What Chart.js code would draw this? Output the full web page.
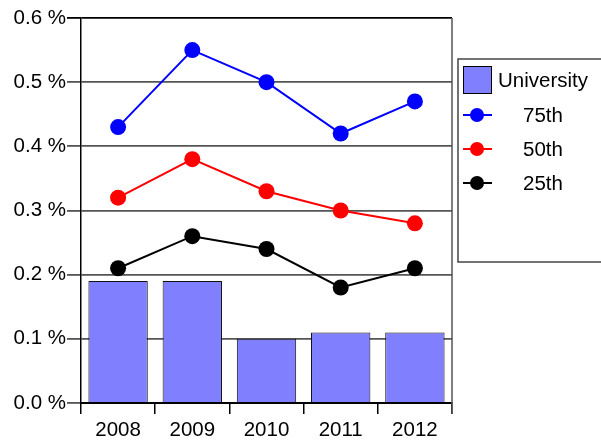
<!DOCTYPE html>
<html>
<head>
<meta charset="utf-8">
<script src="https://cdn.jsdelivr.net/npm/chart.js@4"></script>
<style>
  html, body { margin: 0; padding: 0; background: #fff; }
  #wrap { width: 601px; height: 442px; position: relative; }
</style>
</head>
<body>
<div id="wrap"><canvas id="chart"></canvas></div>
<script>
const years = ['2008', '2009', '2010', '2011', '2012'];
const university = [0.19, 0.19, 0.10, 0.11, 0.11];
const p75 = [0.43, 0.55, 0.50, 0.42, 0.47];
const p50 = [0.32, 0.38, 0.33, 0.30, 0.28];
const p25 = [0.21, 0.26, 0.24, 0.18, 0.21];
const yTicks = [0, 0.1, 0.2, 0.3, 0.4, 0.5, 0.6];

const FONT = 'Liberation Sans, Arial, sans-serif';
const FSIZE = 20.5;

function lineSet(label, data, color) {
    return {
        type: 'line',
        label: label,
        data: data,
        borderColor: color,
        backgroundColor: color,
        borderWidth: 2,
        pointRadius: 8,
        pointHoverRadius: 8,
        pointBorderWidth: 0,
        tension: 0,
        order: 1
    };
}

// frame line on the right and the boxed legend
const extras = {
    id: 'extras',
    afterDraw(chart) {
        const ctx = chart.ctx;
        const area = chart.chartArea;
        ctx.save();
        ctx.strokeStyle = '#555';
        ctx.lineWidth = 1.5;
        ctx.beginPath();
        ctx.moveTo(area.right, area.top);
        ctx.lineTo(area.right, area.bottom + 11);
        ctx.stroke();

        // legend box
        const lx = 458, ly = 59;
        ctx.strokeStyle = '#444';
        ctx.lineWidth = 1.5;
        ctx.strokeRect(lx, ly, 160, 203);

        ctx.font = FSIZE + 'px ' + FONT;
        ctx.textBaseline = 'middle';

        ctx.fillStyle = '#8080ff';
        ctx.fillRect(463, 66, 29, 28);
        ctx.strokeStyle = '#000';
        ctx.lineWidth = 1;
        ctx.strokeRect(463.5, 66.5, 28, 27);
        ctx.fillStyle = '#000';
        ctx.fillText('University', 498, 81);

        const items = [['75th', 'blue', 115], ['50th', 'red', 149], ['25th', 'black', 183]];
        items.forEach(([txt, col, y]) => {
            ctx.strokeStyle = col;
            ctx.fillStyle = col;
            ctx.lineWidth = 2;
            ctx.beginPath();
            ctx.moveTo(463, y);
            ctx.lineTo(492, y);
            ctx.stroke();
            ctx.beginPath();
            ctx.arc(477, y, 7, 0, Math.PI * 2);
            ctx.fill();
            ctx.fillStyle = '#000';
            ctx.fillText(txt, 523, y + 1);
        });
        ctx.restore();
    }
};

new Chart(document.getElementById('chart'), {
    type: 'bar',
    data: {
        labels: years,
        datasets: [
            {
                type: 'bar',
                label: 'University',
                data: university,
                backgroundColor: '#8080ff',
                borderColor: '#111',
                borderWidth: 1,
                barPercentage: 0.8,
                categoryPercentage: 1.0,
                order: 2
            },
            lineSet('75th', p75, '#0000ff'),
            lineSet('50th', p50, '#ff0000'),
            lineSet('25th', p25, '#000000')
        ]
    },
    options: {
        responsive: true,
        maintainAspectRatio: false,
        animation: false,
        layout: { padding: { top: 18, right: 149, left: 0, bottom: 0 } },
        plugins: {
            legend: { display: false },
            tooltip: { enabled: false }
        },
        scales: {
            x: {
                offset: true,
                grid: {
                    display: true,
                    drawOnChartArea: false,
                    drawTicks: true,
                    tickLength: 11,
                    color: '#000',
                    lineWidth: 1.5
                },
                border: { display: true, color: '#000', width: 2 },
                ticks: {
                    color: '#000',
                    font: { family: FONT, size: FSIZE },
                    padding: 4,
                    maxRotation: 0
                },
                afterFit(scale) { scale.height = 39; }
            },
            y: {
                min: 0,
                max: 0.6,
                afterBuildTicks(scale) {
                    scale.ticks = yTicks.map(v => ({ value: v }));
                },
                grid: {
                    color: ctx => (ctx.tick && ctx.tick.value === 0.6) ? '#000' : '#555',
                    lineWidth: 1.8,
                    tickLength: 14,
                    drawTicks: true
                },
                border: { display: true, color: '#000', width: 1.5 },
                ticks: {
                    color: '#000',
                    font: { family: FONT, size: FSIZE },
                    padding: 1,
                    callback: v => v.toFixed(1) + ' %'
                },
                afterFit(scale) { scale.width = 81; }
            }
        }
    },
    plugins: [extras]
});
</script>
</body>
</html>
